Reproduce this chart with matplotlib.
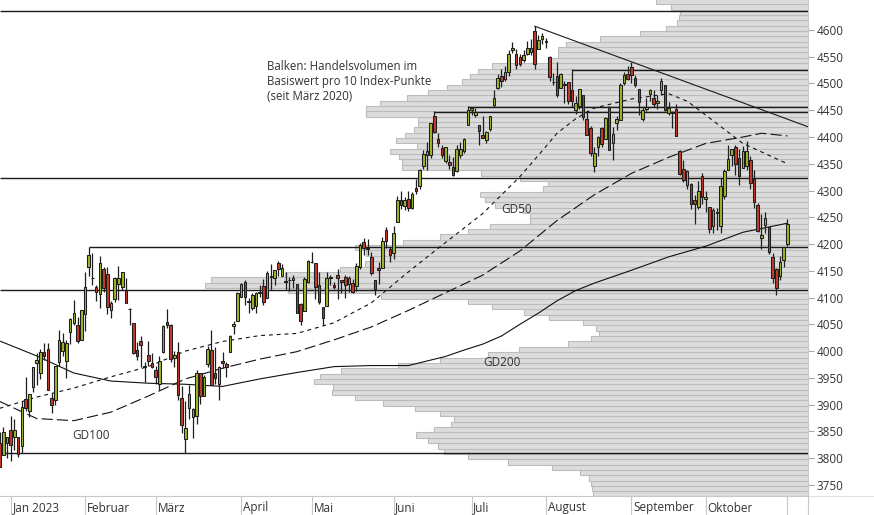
import numpy as np
import pandas as pd
import matplotlib
matplotlib.use("Agg")
import matplotlib.pyplot as plt
from matplotlib import transforms
from matplotlib.lines import Line2D

plt.rcParams['font.family'] = ['Open Sans', 'DejaVu Sans']
plt.rcParams['lines.scale_dashes'] = False

# trading days shown (US holidays left out)
holidays = ['2023-01-02', '2023-01-16', '2023-02-20', '2023-04-07',
            '2023-05-29', '2023-06-19', '2023-07-04', '2023-09-04']
dates = pd.bdate_range('2022-12-28', '2023-11-01', freq='C', holidays=holidays)

opens = [3829, 3805, 3829, 3853, 3840, 3840, 3823, 3910, 3888, 3932, 3977, 3960, 3999, 4003, 3912, 3909,
         3979, 4001, 3982, 4036, 4053, 4049, 4020, 4070, 4158, 4137, 4119, 4106, 4153, 4144, 4077, 4097,
         4126, 4119, 4114, 4078, 4052, 4002, 4018, 3973, 3993, 3977, 3964, 3938, 3999, 4055, 4048, 3987,
         3998, 3912, 3835, 3894, 3876, 3878, 3959, 3917, 3975, 4002, 3960, 3939, 3982, 3975, 3999, 4046,
         4056, 4102, 4129, 4094, 4081, 4085, 4110, 4121, 4100, 4140, 4137, 4164, 4140, 4131, 4132, 4132,
         4126, 4088, 4075, 4129, 4166, 4164, 4123, 4082, 4084, 4136, 4124, 4143, 4132, 4138, 4126, 4127,
         4122, 4157, 4204, 4190, 4176, 4132, 4155, 4156, 4226, 4191, 4183, 4241, 4282, 4271, 4285, 4268,
         4304, 4308, 4345, 4366, 4366, 4440, 4396, 4380, 4355, 4354, 4344, 4337, 4367, 4374, 4422, 4450,
         4442, 4422, 4404, 4394, 4415, 4459, 4492, 4514, 4508, 4521, 4563, 4555, 4550, 4543, 4555, 4558,
         4598, 4565, 4584, 4579, 4550, 4503, 4514, 4491, 4498, 4502, 4487, 4451, 4458, 4478, 4434, 4416,
         4345, 4381, 4416, 4397, 4456, 4389, 4426, 4432, 4500, 4517, 4530, 4511, 4490, 4434, 4452, 4480,
         4473, 4463, 4487, 4497, 4445, 4446, 4452, 4374, 4341, 4311, 4312, 4282, 4270, 4328, 4284, 4270,
         4234, 4259, 4234, 4289, 4339, 4367, 4381, 4360, 4342, 4345, 4357, 4322, 4273, 4211, 4235, 4232,
         4175, 4153, 4140, 4171, 4201]
highs = [3848, 3858, 3839, 3879, 3874, 3840, 3906, 3951, 3920, 3970, 3997, 4003, 4015, 4015, 3922, 3973,
         4040, 4033, 4020, 4061, 4095, 4063, 4077, 4148, 4195, 4183, 4124, 4177, 4157, 4157, 4094, 4138,
         4159, 4148, 4136, 4081, 4052, 4017, 4029, 3979, 4019, 3997, 3972, 3990, 4048, 4078, 4050, 4000,
         4017, 3934, 3906, 3937, 3894, 3965, 3959, 3956, 4009, 4039, 4007, 3972, 3999, 3979, 4030, 4057,
         4110, 4128, 4133, 4100, 4108, 4110, 4124, 4134, 4150, 4163, 4152, 4169, 4163, 4148, 4138, 4142,
         4126, 4089, 4138, 4170, 4186, 4165, 4148, 4082, 4147, 4143, 4130, 4154, 4132, 4143, 4141, 4135,
         4164, 4202, 4212, 4209, 4186, 4133, 4166, 4213, 4231, 4195, 4233, 4290, 4300, 4288, 4299, 4298,
         4322, 4340, 4375, 4391, 4427, 4448, 4408, 4386, 4382, 4367, 4362, 4385, 4390, 4398, 4458, 4457,
         4454, 4423, 4440, 4412, 4440, 4488, 4517, 4528, 4532, 4562, 4578, 4565, 4555, 4563, 4580, 4583,
         4607, 4590, 4594, 4585, 4551, 4520, 4540, 4520, 4504, 4502, 4527, 4476, 4490, 4478, 4450, 4421,
         4381, 4402, 4418, 4437, 4458, 4418, 4440, 4500, 4521, 4532, 4541, 4516, 4490, 4457, 4473, 4490,
         4487, 4479, 4511, 4497, 4466, 4449, 4462, 4375, 4357, 4338, 4314, 4292, 4317, 4333, 4300, 4270,
         4268, 4268, 4324, 4341, 4386, 4378, 4386, 4377, 4383, 4393, 4364, 4339, 4276, 4256, 4259, 4232,
         4183, 4156, 4177, 4194, 4246]
lows = [3783, 3805, 3800, 3795, 3815, 3802, 3810, 3888, 3877, 3924, 3937, 3947, 3984, 3928, 3885, 3900,
        3973, 3991, 3949, 4013, 4049, 4015, 4020, 4037, 4141, 4124, 4094, 4080, 4111, 4069, 4061, 4092,
        4096, 4114, 4089, 4048, 3995, 3984, 3971, 3943, 3973, 3968, 3939, 3928, 3997, 4044, 3980, 3970,
        3908, 3847, 3809, 3874, 3838, 3864, 3901, 3917, 3971, 3936, 3938, 3909, 3969, 3951, 3999, 4032,
        4056, 4102, 4086, 4071, 4077, 4072, 4102, 4086, 4100, 4114, 4124, 4140, 4140, 4114, 4113, 4117,
        4071, 4049, 4075, 4127, 4164, 4098, 4088, 4048, 4084, 4124, 4116, 4098, 4109, 4099, 4111, 4109,
        4113, 4153, 4180, 4180, 4142, 4104, 4126, 4155, 4193, 4166, 4172, 4241, 4266, 4263, 4261, 4266,
        4293, 4303, 4341, 4339, 4360, 4407, 4381, 4361, 4351, 4341, 4328, 4335, 4361, 4371, 4422, 4442,
        4437, 4385, 4398, 4389, 4412, 4457, 4489, 4494, 4504, 4514, 4557, 4527, 4532, 4541, 4553, 4553,
        4528, 4564, 4573, 4567, 4505, 4497, 4474, 4491, 4464, 4461, 4457, 4443, 4453, 4432, 4403, 4364,
        4335, 4365, 4381, 4397, 4375, 4357, 4414, 4431, 4497, 4507, 4501, 4493, 4442, 4430, 4448, 4468,
        4456, 4453, 4478, 4448, 4442, 4416, 4403, 4329, 4316, 4303, 4265, 4238, 4265, 4274, 4260, 4221,
        4220, 4226, 4220, 4284, 4339, 4345, 4329, 4311, 4342, 4338, 4303, 4268, 4223, 4190, 4220, 4181,
        4128, 4104, 4133, 4158, 4197]
closes = [3783, 3849, 3840, 3825, 3853, 3808, 3895, 3893, 3919, 3970, 3983, 3999, 3991, 3928, 3899, 3972,
          4020, 4017, 4016, 4060, 4071, 4018, 4077, 4120, 4180, 4136, 4111, 4164, 4118, 4082, 4090, 4137,
          4136, 4148, 4090, 4079, 3997, 3991, 4012, 3970, 3982, 3970, 3951, 3981, 4046, 4048, 3986, 3992,
          3918, 3862, 3856, 3920, 3892, 3960, 3917, 3951, 4003, 3937, 3949, 3971, 3977, 3971, 4028, 4051,
          4109, 4125, 4101, 4091, 4105, 4109, 4108, 4092, 4146, 4138, 4151, 4154, 4155, 4130, 4133, 4137,
          4071, 4056, 4135, 4169, 4167, 4119, 4091, 4061, 4136, 4138, 4119, 4137, 4130, 4124, 4136, 4110,
          4159, 4198, 4192, 4192, 4145, 4116, 4151, 4205, 4206, 4180, 4221, 4282, 4273, 4283, 4268, 4294,
          4299, 4338, 4369, 4373, 4426, 4410, 4389, 4366, 4381, 4348, 4329, 4378, 4377, 4396, 4450, 4455,
          4446, 4411, 4399, 4410, 4439, 4472, 4510, 4505, 4522, 4555, 4566, 4535, 4536, 4554, 4567, 4566,
          4537, 4582, 4589, 4577, 4513, 4502, 4478, 4518, 4499, 4468, 4468, 4464, 4490, 4437, 4404, 4370,
          4370, 4400, 4387, 4436, 4376, 4405, 4433, 4497, 4515, 4508, 4516, 4497, 4465, 4451, 4457, 4487,
          4462, 4467, 4505, 4450, 4454, 4444, 4402, 4330, 4320, 4337, 4274, 4275, 4300, 4288, 4288, 4229,
          4263, 4258, 4308, 4336, 4358, 4377, 4349, 4328, 4374, 4373, 4315, 4278, 4224, 4217, 4248, 4186,
          4137, 4117, 4167, 4194, 4238]

# moving averages (trading-day index, value)
gd50_idx = [0, 10, 20, 30, 40, 50, 60, 70, 80, 90, 100, 110, 120, 130, 140, 145, 150, 155, 160, 170, 180,
            185, 190, 200, 212]
gd50_val = [3893, 3914, 3931, 3952, 3971, 4000, 4018, 4029, 4033, 4053, 4090, 4148, 4203, 4257, 4326, 4366,
            4407, 4434, 4454, 4471, 4481, 4467, 4441, 4388, 4350]
gd100_idx = [0, 10, 20, 30, 40, 50, 60, 70, 80, 90, 100, 110, 120, 130, 140, 150, 160, 170, 180, 190, 200,
             205, 212]
gd100_val = [3906, 3874, 3870, 3886, 3916, 3948, 3968, 3985, 3999, 4021, 4045, 4076, 4109, 4142, 4187, 4244,
             4292, 4332, 4362, 4388, 4400, 4407, 4402]
gd200_idx = [0, 10, 20, 30, 40, 50, 60, 70, 80, 90, 100, 110, 120, 125, 130, 135, 140, 145, 150, 155, 160,
             170, 180, 190, 200, 212]
gd200_val = [4019, 3991, 3959, 3944, 3940, 3938, 3934, 3948, 3960, 3971, 3973, 3973, 3990, 4002, 4013, 4028,
             4050, 4071, 4094, 4113, 4127, 4151, 4176, 4196, 4222, 4239]

# support / resistance levels and where they start (index)
level_val = [4636, 4525, 4456, 4447, 4323, 4194, 4114, 3809]
level_start = [0, 154, 126, 117, 0, 24, 0, 0]
trend_idx = [144, 217.6]
trend_val = [4607, 4419]

# volume profile: buckets of 10 index points, relative volume
vol_low = list(range(3728, 4658, 10))
vol_len = [215, 216, 217, 219, 228, 256, 300, 340, 364, 370, 380, 392, 374, 357, 354, 368, 393, 425, 453, 476,
           475, 494, 488, 467, 410, 368, 320, 289, 240, 217, 209, 212, 225, 259, 284, 316, 340, 427, 520, 603,
           597, 523, 468, 443, 436, 442, 453, 405, 368, 340, 318, 278, 278, 285, 313, 323, 328, 265, 260, 288,
           327, 406, 406, 409, 418, 391, 412, 403, 394, 390, 390, 442, 442, 428, 401, 380, 361, 346, 338, 330,
           316, 258, 250, 250, 242, 208, 168, 142, 131, 129, 128, 137, 152]

month_names = {1: 'Jan 2023', 2: 'Februar', 3: 'März', 4: 'April', 5: 'Mai', 6: 'Juni', 7: 'Juli',
               8: 'August', 9: 'September', 10: 'Oktober', 11: ''}

W, H = 874, 515
fig = plt.figure(figsize=(W / 100, H / 100), dpi=100)
ax = fig.add_axes([0, 19.5 / H, 808.3 / W, 495.5 / H])
ax2 = ax.twiny()

o = np.array(opens); h = np.array(highs); l = np.array(lows); c = np.array(closes)
idx = np.arange(len(dates))
xmin, xmax = 0.12, 217.6

# volume bars from the right edge
ax2.barh(vol_low, vol_len, height=10, left=0, align='edge', color='#dcdcdc',
         edgecolor='#bcbcbc', linewidth=0.8)
ax2.set_xlim(808.3, 0)
ax2.set_xticks([])
for s in ax2.spines.values():
    s.set_visible(False)
ax.set_zorder(ax2.get_zorder() + 1)
ax.patch.set_visible(False)

# levels and trend line
for v, st in zip(level_val, level_start):
    ax.hlines(v, max(st, xmin - 1), xmax + 1, color='#1a1a1a', lw=1.0, zorder=3)
ax.plot(trend_idx, trend_val, color='#1a1a1a', lw=0.8, zorder=3)

# moving averages
ax.plot(gd50_idx, gd50_val, color='#111111', lw=0.8, ls=(0, (2.8, 2.8)), zorder=3)
ax.plot(gd100_idx, gd100_val, color='#111111', lw=0.8, ls=(0, (8, 3)), zorder=3)
ax.plot(gd200_idx, gd200_val, color='#111111', lw=0.8, zorder=3)

# candles
up = c >= o
ax.vlines(idx, l, h, color='#1e1e1e', lw=0.9, zorder=4)
ax.bar(idx, np.abs(c - o), bottom=np.minimum(o, c), width=0.7,
       color=np.where(up, '#9cb52a', '#c23b2b'), edgecolor='#1e1e1e', linewidth=0.75, zorder=5)

ax.set_xlim(xmin, xmax)
ax.set_ylim(3730.2, 4656)

# right price axis
ax.yaxis.tick_right()
ax.set_yticks(np.arange(3750, 4601, 50))
ax.tick_params(axis='y', length=4.3, width=0.8, color='#a8a8a8', pad=1.5,
               labelsize=8.5, labelcolor='#333333')
for s in ['top', 'left']:
    ax.spines[s].set_visible(False)
ax.spines['right'].set_color('#c8c8c8')
ax.spines['bottom'].set_color('#c8c8c8')
ax.spines['right'].set_linewidth(0.8)
ax.spines['bottom'].set_linewidth(0.8)

# month separators and labels
month_start = [i for i in range(1, len(dates)) if dates[i].month != dates[i - 1].month]
ax.set_xticks(month_start)
ax.set_xticklabels([''] * len(month_start))
ax.tick_params(axis='x', length=14.2, width=0.8, color='#c8c8c8', direction='out')
tr = transforms.blended_transform_factory(ax.transData, fig.transFigure) + \
    transforms.ScaledTranslation(1.8 / 100, 0, fig.dpi_scale_trans)
for i in month_start:
    ax.text(i, 3.5 / H, month_names[dates[i].month], transform=tr, ha='left', va='baseline',
            fontsize=8.5, color='#333333', clip_on=False)

fig.add_artist(Line2D([808.3 / W, 1], [19.5 / H, 19.5 / H], color='#e0e0e0', lw=0.8))
fig.add_artist(Line2D([808.3 / W, 808.3 / W], [0, 19.5 / H], color='#c8c8c8', lw=0.8))

# annotations
ax.text(0.330, 0.879, 'Balken: Handelsvolumen im\nBasiswert pro 10 Index-Punkte\n(seit März 2020)',
        transform=ax.transAxes, ha='left', va='top', fontsize=8.3, color='#333333', linespacing=1.2)
ax.text(0.6396, 0.5762, 'GD50', transform=ax.transAxes, ha='center', va='center', fontsize=8.5, color='#333333')
ax.text(0.621, 0.2694, 'GD200', transform=ax.transAxes, ha='center', va='center', fontsize=8.5, color='#333333')
ax.text(0.112, 0.1207, 'GD100', transform=ax.transAxes, ha='center', va='center', fontsize=8.5, color='#333333')

fig.savefig('out.png', dpi=100, facecolor='white')
